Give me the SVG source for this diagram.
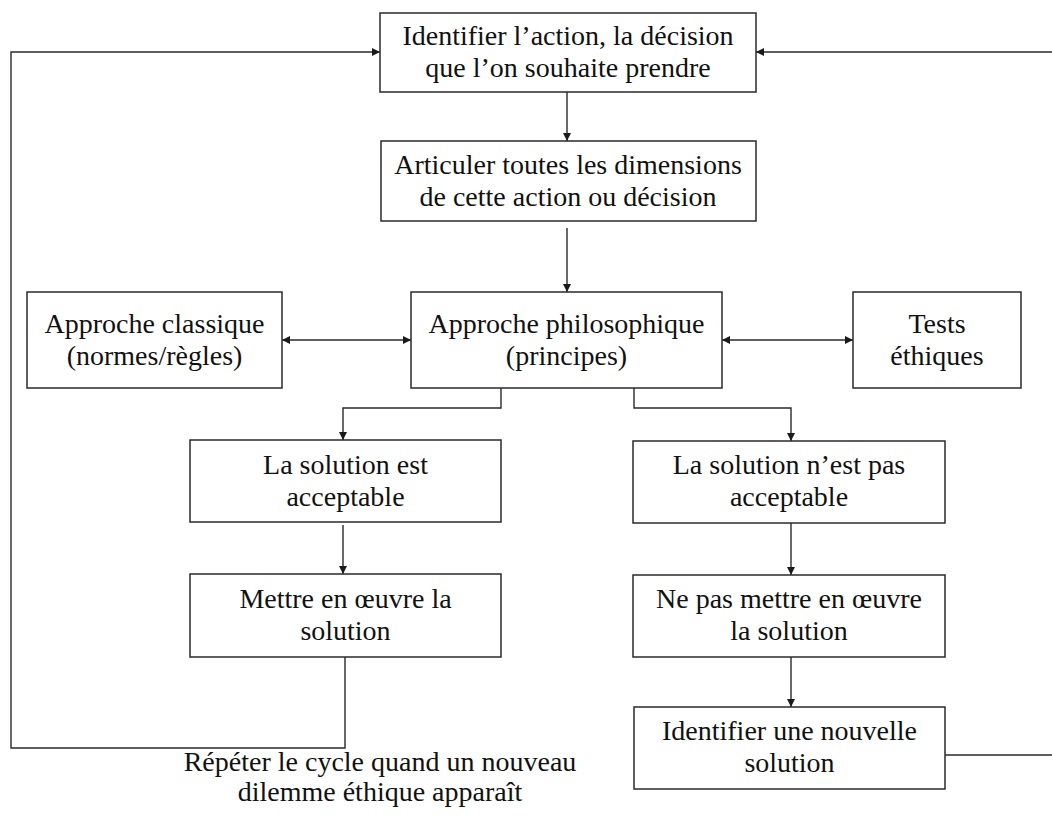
<svg xmlns="http://www.w3.org/2000/svg" width="1052" height="817" viewBox="0 0 1052 817">
  <style>
    .box { fill: #ffffff; stroke: #2a2a2a; stroke-width: 1.5; }
    .lbl { font-family: "Liberation Serif", "Times New Roman", serif; font-size: 28px; fill: #111111; text-anchor: middle; }
    .wire { fill: none; stroke: #2a2a2a; stroke-width: 1.4; }
  </style>
  <defs>
    <marker id="arrow" viewBox="0 0 10 10" refX="10" refY="5" markerWidth="8" markerHeight="8" markerUnits="userSpaceOnUse" orient="auto-start-reverse">
      <path d="M0 0 L10 5 L0 10 Z" fill="#1a1a1a"/>
    </marker>
  </defs>
  <rect width="1052" height="817" fill="#ffffff"/>

  <!-- connectors -->
  <g id="connectors">
    <path class="wire" d="M567 92 V141" marker-end="url(#arrow)"/>
    <path class="wire" d="M567 228 V292" marker-end="url(#arrow)"/>
    <path class="wire" d="M282 340 H411" marker-start="url(#arrow)" marker-end="url(#arrow)"/>
    <path class="wire" d="M722 340 H853" marker-start="url(#arrow)" marker-end="url(#arrow)"/>
    <path class="wire" d="M501 388 V408 H343 V440" marker-end="url(#arrow)"/>
    <path class="wire" d="M634 388 V408 H791 V441" marker-end="url(#arrow)"/>
    <path class="wire" d="M343 525 V574" marker-end="url(#arrow)"/>
    <path class="wire" d="M791 523 V575" marker-end="url(#arrow)"/>
    <path class="wire" d="M791 657 V707" marker-end="url(#arrow)"/>
    <!-- loop back after implementation -->
    <path class="wire" d="M345 657 V748 H11 V52 H380" marker-end="url(#arrow)"/>
    <!-- loop back from a new solution -->
    <path class="wire" d="M945 755 H1053 V52 H756" marker-end="url(#arrow)"/>
  </g>

  <g id="identifier">
    <rect class="box" x="380" y="13" width="376" height="79"/>
    <text class="lbl" x="568" y="45">Identifier l’action, la décision</text>
    <text class="lbl" x="568" y="77">que l’on souhaite prendre</text>
  </g>

  <g id="articuler">
    <rect class="box" x="381" y="141" width="375" height="80"/>
    <text class="lbl" x="568" y="174">Articuler toutes les dimensions</text>
    <text class="lbl" x="568" y="206">de cette action ou décision</text>
  </g>

  <g id="classique">
    <rect class="box" x="27" y="292" width="255" height="96"/>
    <text class="lbl" x="154.5" y="333">Approche classique</text>
    <text class="lbl" x="154.5" y="365">(normes/règles)</text>
  </g>

  <g id="philosophique">
    <rect class="box" x="411" y="292" width="311" height="96"/>
    <text class="lbl" x="566.5" y="333">Approche philosophique</text>
    <text class="lbl" x="566.5" y="365">(principes)</text>
  </g>

  <g id="tests">
    <rect class="box" x="853" y="292" width="168" height="96"/>
    <text class="lbl" x="937" y="333">Tests</text>
    <text class="lbl" x="937" y="365">éthiques</text>
  </g>

  <g id="acceptable">
    <rect class="box" x="190" y="440" width="311" height="82"/>
    <text class="lbl" x="345.5" y="474">La solution est</text>
    <text class="lbl" x="345.5" y="506">acceptable</text>
  </g>

  <g id="non-acceptable">
    <rect class="box" x="633" y="441" width="312" height="82"/>
    <text class="lbl" x="789" y="474">La solution n’est pas</text>
    <text class="lbl" x="789" y="506">acceptable</text>
  </g>

  <g id="mettre">
    <rect class="box" x="190" y="574" width="311" height="83"/>
    <text class="lbl" x="345.5" y="608">Mettre en œuvre la</text>
    <text class="lbl" x="345.5" y="640">solution</text>
  </g>

  <g id="ne-pas-mettre">
    <rect class="box" x="633" y="575" width="312" height="82"/>
    <text class="lbl" x="789" y="608">Ne pas mettre en œuvre</text>
    <text class="lbl" x="789" y="640">la solution</text>
  </g>

  <g id="nouvelle">
    <rect class="box" x="634" y="707" width="311" height="82"/>
    <text class="lbl" x="789.5" y="740">Identifier une nouvelle</text>
    <text class="lbl" x="789.5" y="772">solution</text>
  </g>

  <g id="cycle-note">
    <text class="lbl" x="380" y="771">Répéter le cycle quand un nouveau</text>
    <text class="lbl" x="380" y="801">dilemme éthique apparaît</text>
  </g>
</svg>
